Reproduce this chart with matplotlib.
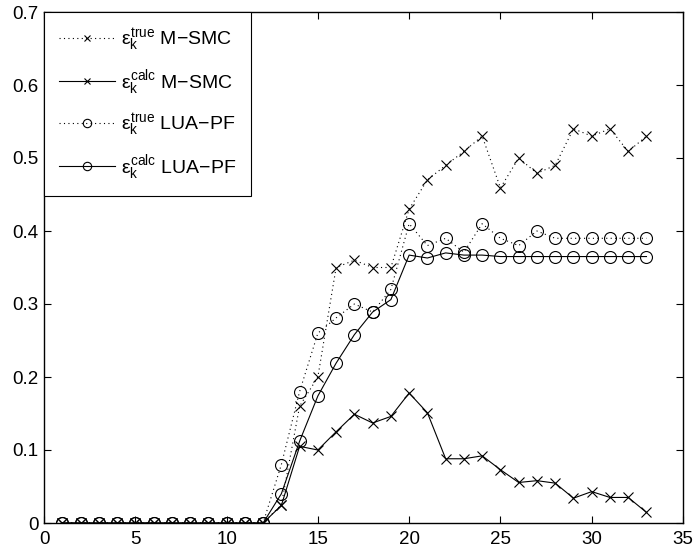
import matplotlib
matplotlib.use("Agg")
import matplotlib.pyplot as plt
from matplotlib.ticker import FormatStrFormatter

plt.rcParams['font.family'] = ['Liberation Sans', 'DejaVu Sans']
plt.rcParams['mathtext.fontset'] = 'custom'
plt.rcParams['mathtext.rm'] = 'Liberation Sans'
plt.rcParams['mathtext.it'] = 'Liberation Sans'
plt.rcParams['mathtext.bf'] = 'Liberation Sans'

# time steps 1..33
steps = list(range(1, 34))
zeros12 = [0.0] * 12

# error values
msmc_true = zeros12 + [0.025, 0.16, 0.20, 0.35, 0.36, 0.35, 0.35, 0.43, 0.47, 0.49, 0.509,
                       0.53, 0.459, 0.50, 0.479, 0.49, 0.54, 0.53, 0.54, 0.509, 0.53]
msmc_calc = zeros12 + [0.024, 0.105, 0.10, 0.125, 0.149, 0.137, 0.146, 0.178, 0.151, 0.088,
                       0.088, 0.092, 0.073, 0.0555, 0.058, 0.0546, 0.034, 0.043, 0.035, 0.035, 0.0145]
lua_true = zeros12 + [0.08, 0.18, 0.26, 0.281, 0.30, 0.289, 0.32, 0.41, 0.38, 0.39, 0.371,
                      0.41, 0.39, 0.38, 0.40, 0.39, 0.39, 0.39, 0.39, 0.39, 0.39]
lua_calc = zeros12 + [0.04, 0.112, 0.174, 0.219, 0.258, 0.289, 0.306, 0.367, 0.363, 0.370,
                      0.367, 0.367, 0.365, 0.365, 0.365, 0.365, 0.365, 0.365, 0.365, 0.365, 0.365]

labels = [r'$\varepsilon_k^{true}$ M' + '\u2212SMC',
          r'$\varepsilon_k^{calc}$ M' + '\u2212SMC',
          r'$\varepsilon_k^{true}$ LUA' + '\u2212PF',
          r'$\varepsilon_k^{calc}$ LUA' + '\u2212PF']

fig = plt.figure(figsize=(6.98, 5.58), dpi=100)
ax = fig.add_axes([44 / 698, 1 - 523 / 558, (683 - 44) / 698, (523 - 12) / 558])

lw = 0.8
dotted = (0, (1, 3))
ax.plot(steps, msmc_true, linestyle=dotted, color='k', marker='x', markersize=6.5, mew=0.8,
        lw=lw, label=labels[0])
ax.plot(steps, msmc_calc, '-', color='k', marker='x', markersize=6.5, mew=0.8, lw=lw,
        label=labels[1])
ax.plot(steps, lua_true, linestyle=dotted, color='k', marker='o', markersize=8.6, mew=0.8,
        mfc='none', lw=lw, label=labels[2])
ax.plot(steps, lua_calc, '-', color='k', marker='o', markersize=8.6, mew=0.8, mfc='none',
        lw=lw, label=labels[3])

ax.set_xlim(0, 35)
ax.set_ylim(0, 0.7)
ax.set_xticks(range(0, 36, 5))
ax.set_yticks([i / 10 for i in range(8)])
ax.yaxis.set_major_formatter(FormatStrFormatter('%g'))
ax.tick_params(direction='in', top=True, right=True, labelsize=13.5, length=5, width=0.8)
ax.tick_params(axis='x', pad=6)
ax.tick_params(axis='y', pad=4)
for s in ax.spines.values():
    s.set_linewidth(1.0)

leg = ax.legend(loc='upper left', borderaxespad=0, fontsize=14, fancybox=False,
                edgecolor='k', framealpha=1, handlelength=2.9, labelspacing=0.76,
                borderpad=0.75, handletextpad=0.3, markerscale=0.7)
leg.get_frame().set_linewidth(0.8)

fig.savefig('out.png', dpi=100)
